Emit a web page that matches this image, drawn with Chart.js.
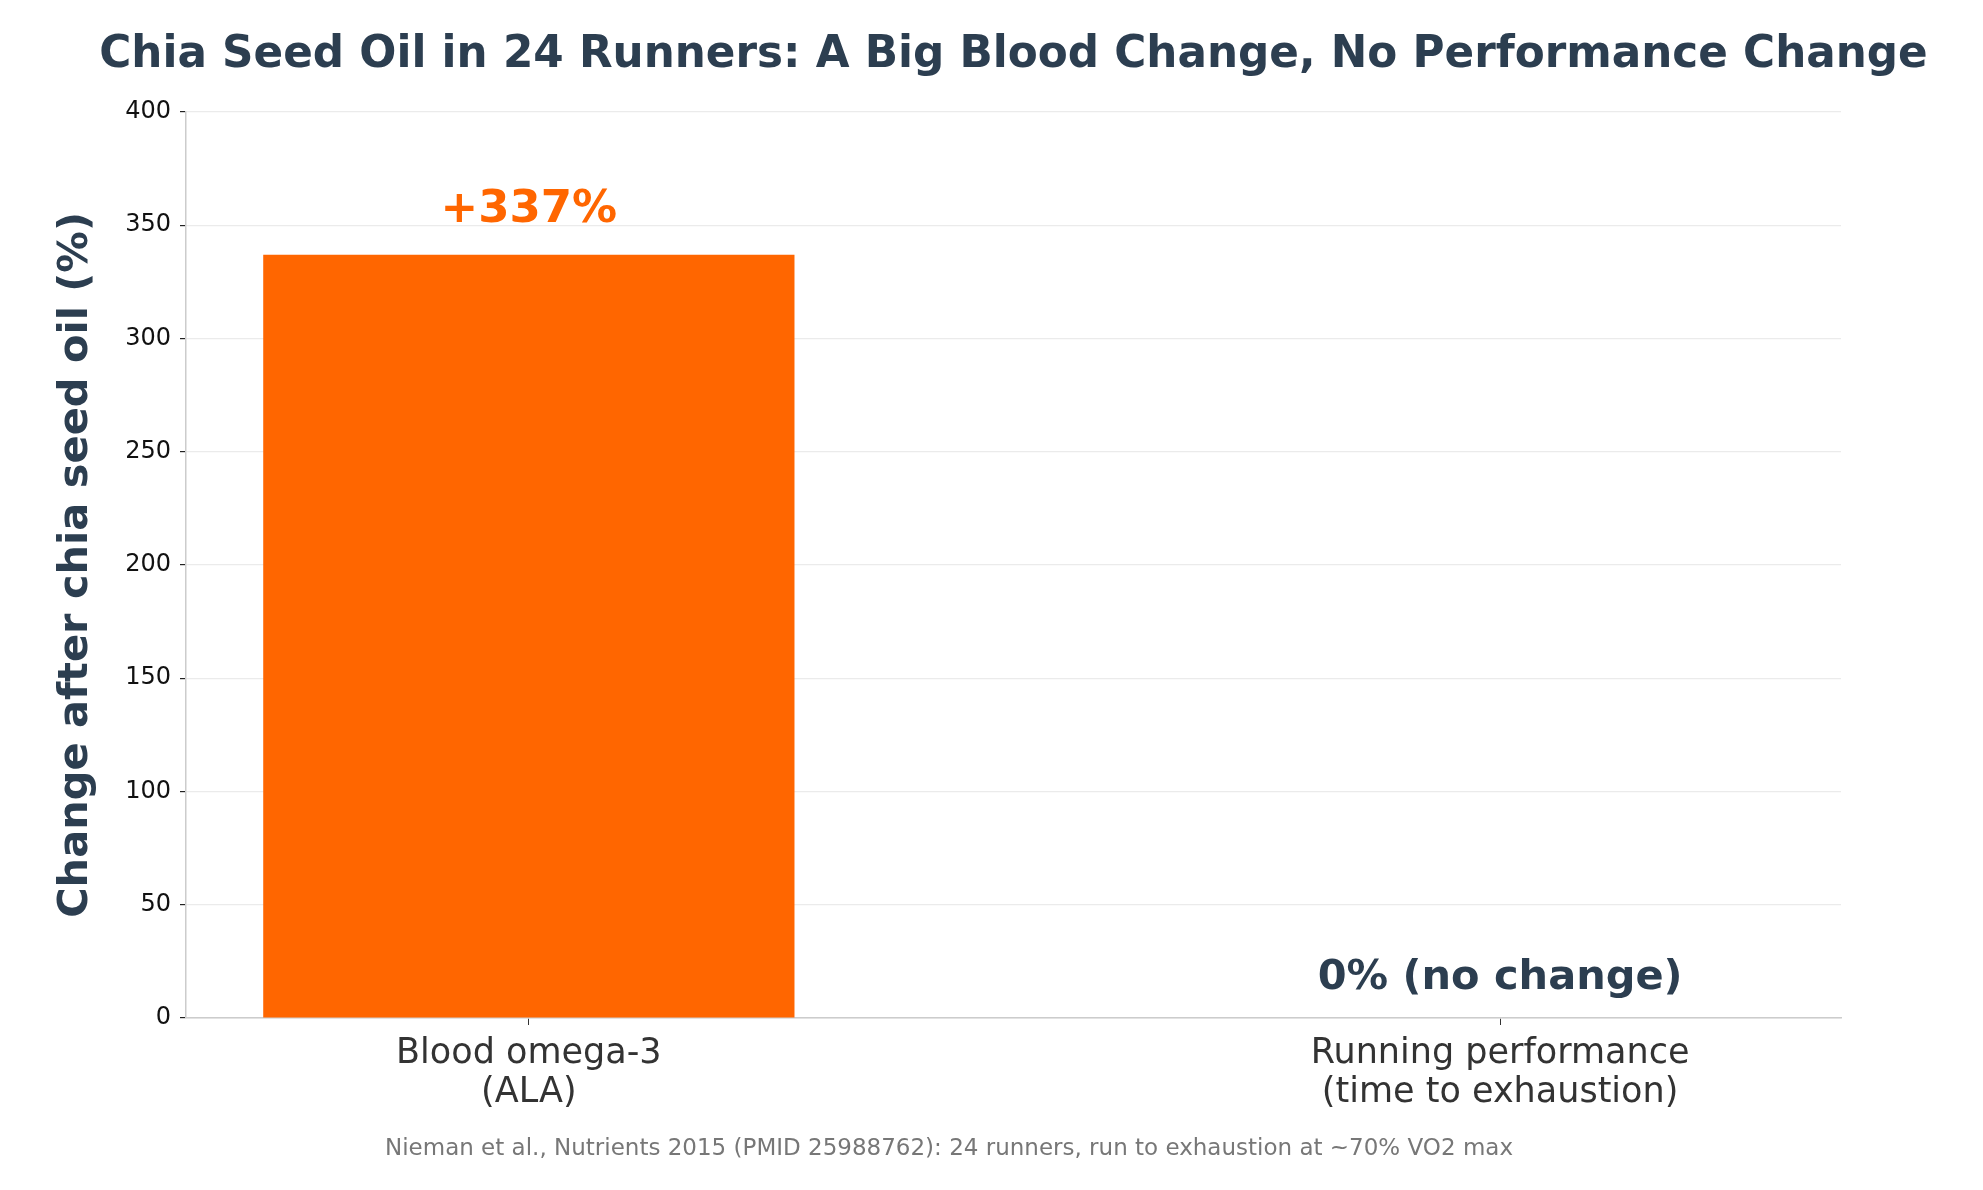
<!DOCTYPE html>
<html>
<head>
<meta charset="utf-8">
<script src="https://cdn.jsdelivr.net/npm/chart.js@4.4.1/dist/chart.umd.min.js"></script>
<style>
  html, body { margin: 0; padding: 0; background: #fff; }
  #wrap { width: 1983px; height: 1190px; }
</style>
</head>
<body>
<div id="wrap"><canvas id="c" width="1983" height="1190"></canvas></div>
<script>
// data
const categories = [["Blood omega-3", "(ALA)"], ["Running performance", "(time to exhaustion)"]];
const changes = [337, 0];
const barLabels = ["+337%", "0% (no change)"];
const yTicks = [0, 50, 100, 150, 200, 250, 300, 350, 400];

const titleText = "Chia Seed Oil in 24 Runners: A Big Blood Change, No Performance Change";
const yTitle = "Change after chia seed oil (%)";
const footnote = "Nieman et al., Nutrients 2015 (PMID 25988762): 24 runners, run to exhaustion at ~70% VO2 max";

const DARK = "#2c3e50";
const ORANGE = "#ff6600";
const FONT = "'DejaVu Sans', sans-serif";

// titles, axis title, bar labels and footnote
const textPlugin = {
  id: "texts",
  afterDraw(chart) {
    const ctx = chart.ctx;
    const area = chart.chartArea;
    const x = chart.scales.x, y = chart.scales.y;
    ctx.save();
    ctx.textAlign = "center";
    ctx.textBaseline = "middle";

    ctx.fillStyle = DARK;
    ctx.font = "bold 43.7px " + FONT;
    ctx.fillText(titleText, (area.left + area.right) / 2, 56);

    ctx.save();
    ctx.translate(76, (area.top + area.bottom) / 2);
    ctx.rotate(-Math.PI / 2);
    ctx.font = "bold 41.5px " + FONT;
    ctx.fillText(yTitle, 0, 0);
    ctx.restore();

    // value labels above the bars
    ctx.font = "bold 45px " + FONT;
    ctx.fillStyle = ORANGE;
    ctx.fillText(barLabels[0], x.getPixelForValue(0), y.getPixelForValue(changes[0]) - 44);
    ctx.font = "bold 41.5px " + FONT;
    ctx.fillStyle = DARK;
    ctx.fillText(barLabels[1], x.getPixelForValue(1), y.getPixelForValue(changes[1]) - 40);

    ctx.font = "23px " + FONT;
    ctx.fillStyle = "#777777";
    ctx.fillText(footnote, 949, 1149);
    ctx.restore();
  }
};

new Chart(document.getElementById("c"), {
  type: "bar",
  data: {
    datasets: [{
      data: changes.map((v, i) => ({ x: i, y: v })),
      backgroundColor: [ORANGE, "#bdc3c7"],
      barPercentage: 0.547,
      categoryPercentage: 1.0
    }]
  },
  options: {
    responsive: false,
    animation: false,
    layout: { padding: { top: 112, right: 142, left: 0, bottom: 0 } },
    plugins: { legend: { display: false }, tooltip: { enabled: false } },
    scales: {
      x: {
        type: "linear",
        offset: false,
        min: -0.353,
        max: 1.351,
        afterBuildTicks(s) { s.ticks = [{ value: 0 }, { value: 1 }]; },
        afterFit(s) { s.height = 172; },
        grid: { offset: false, drawOnChartArea: false, tickColor: "#333", tickLength: 7 },
        border: { color: "#cccccc", width: 1.5 },
        ticks: {
          callback: (v) => categories[v],
          color: "#333333",
          font: { family: FONT, size: 35, lineHeight: 1.12 },
          padding: 9,
          maxRotation: 0
        }
      },
      y: {
        min: 0,
        max: 400,
        afterBuildTicks(s) { s.ticks = yTicks.map(v => ({ value: v })); },
        afterFit(s) { s.width = 186; },
        grid: { color: "#ebebeb", tickColor: "#222", tickLength: 6, lineWidth: 1.2 },
        border: { color: "#cccccc", width: 1.5 },
        ticks: {
          color: "#111111",
          font: { family: FONT, size: 24 },
          padding: 9
        }
      }
    }
  },
  plugins: [textPlugin]
});
</script>
</body>
</html>
